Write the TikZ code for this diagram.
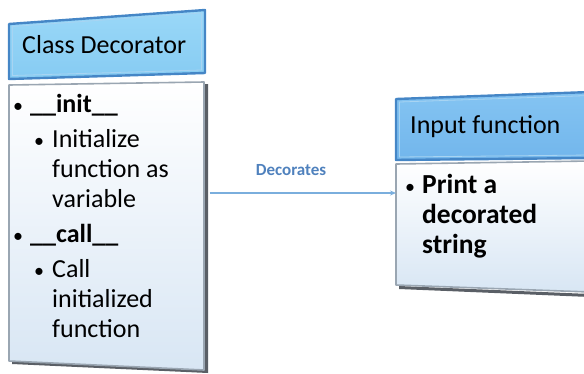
\documentclass[tikz,border=0pt]{standalone}
\usepackage{fontspec}
\setmainfont{Carlito}
\usetikzlibrary{arrows.meta}
\definecolor{hdrborder}{HTML}{4586C6}
\definecolor{hdrinner}{HTML}{A8D4F2}
\definecolor{hdrtop}{HTML}{9AD8F8}
\definecolor{hdrbot}{HTML}{86CBF2}
\definecolor{hdrtopr}{HTML}{84C4F2}
\definecolor{hdrbotr}{HTML}{72B6EC}
\definecolor{bodyborder}{HTML}{9AA6B2}
\definecolor{bodybot}{HTML}{D8E6F4}
\definecolor{shadowc}{HTML}{5A5F66}
\definecolor{arrowc}{HTML}{7AAEDD}
\definecolor{labc}{HTML}{4F81BD}
\begin{document}
\begin{tikzpicture}[x=1pt,y=-1pt,
  hdrline/.style={draw=hdrborder, line width=2.4pt, line join=round},
  hdrinl/.style={draw=hdrinner, line width=0.8pt},
  bodyline/.style={draw=bodyborder, line width=1.6pt, line join=round},
  txt/.style={anchor=base west, inner sep=0pt, font=\fontsize{26}{30}\selectfont},
  txtr/.style={anchor=base west, inner sep=0pt, font=\fontsize{27.5}{30}\selectfont\bfseries},
  bul/.style={anchor=base west, inner sep=0pt, font=\fontsize{20}{30}\selectfont},
  hdrtxt/.style={anchor=west, inner sep=0pt, font=\fontsize{26}{30}\selectfont},
  lab/.style={inner sep=0pt, text=labc, font=\fontsize{17}{20}\selectfont\bfseries}]
\useasboundingbox (0,0) rectangle (584,373);
% ---------- left box ----------
% body
\fill[shadowc] (204,84) -- (208,84) -- (208,373) -- (12,364) -- (12,361) -- (204,370) -- cycle;
\shade[top color=white, bottom color=bodybot] (9,85) -- (204,82) -- (204,370) -- (9,361) -- cycle;
\draw[bodyline] (9,85) -- (204,82) -- (204,370) -- (9,361) -- cycle;
% header
\shade[top color=hdrtop, bottom color=hdrbot] (9,24) -- (205,10) -- (205,73) -- (9,79) -- cycle;
\draw[hdrline] (9,24) -- (205,10) -- (205,73) -- (9,79) -- cycle;
\draw[hdrinl] (12.5,26.5) -- (201.5,13) -- (201.5,70) -- (12.5,75.5) -- cycle;
\node[hdrtxt] (lht) at (22,45) {Class Decorator};
\node[bul] (b1) at (13,112) {•};
\node[txt] (t1) at (30,112) {\textbf{\_\_init\_\_}};
\node[bul] (b2) at (34,147) {•};
\node[txt] (t2) at (52,147) {Initialize};
\node[txt] (t3) at (52,177) {function as};
\node[txt] (t4) at (52,207) {variable};
\node[bul] (b3) at (13,242) {•};
\node[txt] (t5) at (30,242) {\textbf{\_\_call\_\_}};
\node[bul] (b4) at (34,277) {•};
\node[txt] (t6) at (52,277) {Call};
\node[txt] (t7) at (52,307) {initialized};
\node[txt] (t8) at (52,337) {function};
% ---------- right box ----------
\fill[shadowc] (399,286) -- (590,294) -- (590,297) -- (399,289) -- cycle;
\shade[top color=white, bottom color=bodybot] (396,164) -- (590,161) -- (590,292) -- (396,285) -- cycle;
\draw[bodyline] (396,164) -- (590,161) -- (590,292) -- (396,285) -- cycle;
\shade[top color=hdrtopr, bottom color=hdrbotr] (396,99) -- (590,92) -- (590,158) -- (396,160) -- cycle;
\draw[hdrline] (396,99) -- (590,92) -- (590,158) -- (396,160) -- cycle;
\draw[hdrinl] (399.5,102) -- (590,95.5) -- (590,155) -- (399.5,157) -- cycle;
\node[hdrtxt] (rht) at (410,127) {Input function};
\node[bul] (b5) at (405,193) {•};
\node[txtr] (t9) at (422,193) {Print a};
\node[txtr] (t10) at (422,223) {decorated};
\node[txtr] (t11) at (422,253) {string};
% ---------- connector ----------
\coordinate (as) at (209.5,193);
\coordinate (rbw) at (396,193);
\draw[arrowc, line width=1.3pt, -{Stealth[length=6pt,width=5pt]}] (as) -- (rbw);
\node[lab] (dec) at (291,170) {Decorates};
\end{tikzpicture}
\end{document}
